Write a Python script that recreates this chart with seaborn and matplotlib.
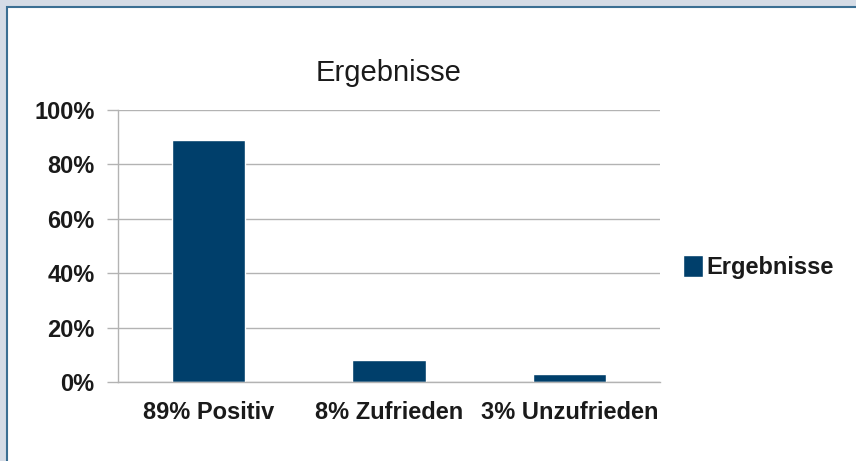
import matplotlib
matplotlib.use("Agg")
import matplotlib.pyplot as plt
from matplotlib.patches import Rectangle
from matplotlib.ticker import FuncFormatter, FixedLocator
import seaborn as sns
import pandas as pd

categories = ["89% Positiv", "8% Zufrieden", "3% Unzufrieden"]
values = [0.89, 0.08, 0.03]
series_name = "Ergebnisse"
title = "Ergebnisse"
y_ticks = [0, 0.2, 0.4, 0.6, 0.8, 1.0]

sns.set_theme(style="white")
plt.rcParams['font.family'] = ['Liberation Sans', 'DejaVu Sans']

W, H = 856, 461
fig = plt.figure(figsize=(W / 100, H / 100), dpi=100)
fig.patch.set_facecolor("#d5dce6")
# white panel with blue border
fig.patches.append(Rectangle((7, -10), W + 20, H - 7 + 10, transform=None,
                             facecolor="white", edgecolor="#3b6f93", linewidth=1.5,
                             zorder=-5))

ax = fig.add_axes([118 / W, (H - 382) / H, (660 - 118) / W, (382 - 110) / H])
ax.patch.set_alpha(0)
df = pd.DataFrame({"cat": categories, "val": values})
sns.barplot(data=df, x="cat", y="val", color="#003f6b", width=0.405, ax=ax,
            saturation=1, label=series_name)

ax.set_ylim(0, 1.0)
ax.set_xlim(-0.5, 2.5)
ax.yaxis.set_major_locator(FixedLocator(y_ticks))
ax.yaxis.set_major_formatter(FuncFormatter(lambda v, p: f"{v*100:.0f}%"))
ax.grid(axis="y", color="#b3b3b3", linewidth=1)
ax.set_axisbelow(True)
ax.set_xlabel("")
ax.set_ylabel("")
for s in ["top", "right"]:
    ax.spines[s].set_visible(False)
for s in ["left", "bottom"]:
    ax.spines[s].set_color("#b3b3b3")
    ax.spines[s].set_linewidth(1)

ax.set_xticks([-0.5, 0.5, 1.5, 2.5], minor=True)
ax.tick_params(axis="x", which="minor", length=7, color="#b3b3b3", width=1, direction="out")
ax.tick_params(axis="x", which="major", length=0, pad=14, labelsize=17, labelcolor="#1a1a1a")
ax.tick_params(axis="y", length=8, color="#b3b3b3", width=1, direction="out", pad=9,
               labelsize=17, labelcolor="#1a1a1a", left=True)
for lab in ax.get_xticklabels() + ax.get_yticklabels():
    lab.set_fontweight("bold")

ax.set_title(title, fontsize=21, color="#1a1a1a", pad=21)

leg = ax.legend(loc="center left", bbox_to_anchor=(683 / W, (H - 267) / H),
                bbox_transform=fig.transFigure, frameon=False,
                handlelength=0.85, handleheight=1.05, handletextpad=0.12,
                prop={"size": 17, "weight": "bold"}, borderpad=0, borderaxespad=0)
for t in leg.get_texts():
    t.set_color("#1a1a1a")

fig.savefig("out.png", dpi=100, facecolor=fig.get_facecolor())
